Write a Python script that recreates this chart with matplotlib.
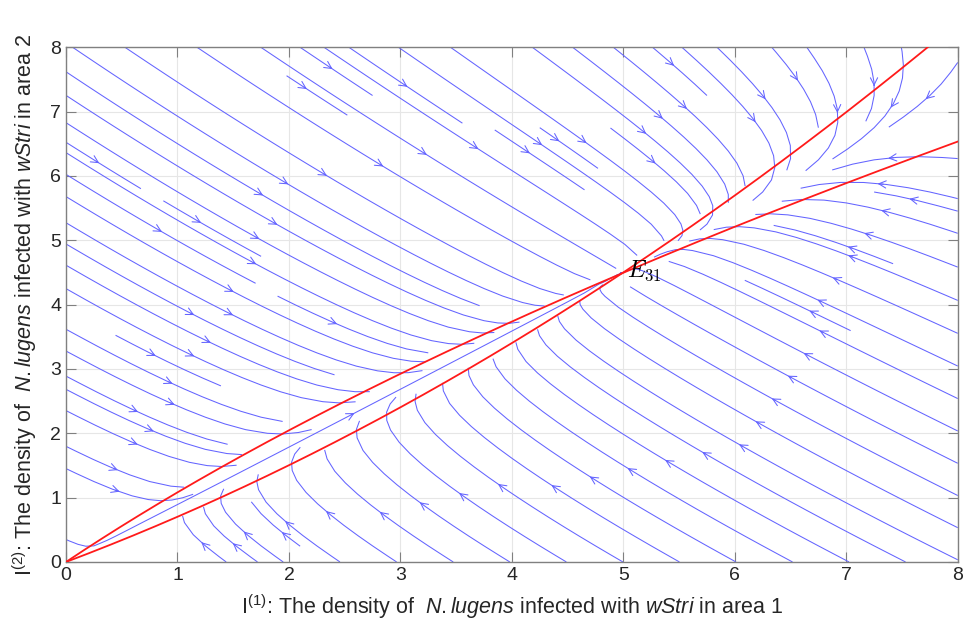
"""Phase portrait of the two-patch wStri infection model with nullclines."""

import matplotlib
matplotlib.use("Agg")
import matplotlib.pyplot as plt
import numpy as np

# nullcline coefficients
# I1-nullcline:  I2 = C1 * I1 + Q1 * I1**2
# I2-nullcline:  I1 = C2 * I2 + Q2 * I2**2
C1, Q1 = 0.653, 0.0494
C2, Q2 = 0.865, 0.055
RATE_RATIO = 0.9          # relative speed of the I2 equation
E31 = (5.0, 4.53)

x_ticks = [0, 1, 2, 3, 4, 5, 6, 7, 8]
y_ticks = [0, 1, 2, 3, 4, 5, 6, 7, 8]
LIMITS = (0, 8)

plt.rcParams["font.family"] = ["Liberation Sans", "DejaVu Sans"]
plt.rcParams["mathtext.fontset"] = "custom"
plt.rcParams["mathtext.rm"] = "Liberation Sans"
plt.rcParams["mathtext.it"] = "Liberation Sans:italic"


def h(x):
    return C1 * x + Q1 * x ** 2


def k(y):
    return C2 * y + Q2 * y ** 2


# ------------------------------------------------------------------ field
g = np.linspace(LIMITS[0], LIMITS[1], 240)
X, Y = np.meshgrid(g, g)
U = Y - h(X)
V = RATE_RATIO * (X - k(Y))

# seeds on a coarse regular grid, like streamslice does
s = np.linspace(0.25, 7.75, 16)
SX, SY = np.meshgrid(s, s)
seeds = np.column_stack([SX.ravel(), SY.ravel()])

fig = plt.figure(figsize=(9.64, 6.30), dpi=100)
ax = fig.add_axes([0.0685, 0.108, 0.925, 0.817])

ax.streamplot(X, Y, U, V, density=1.3, color="#6464ff", linewidth=0.75,
              arrowstyle="->", arrowsize=1.3, start_points=seeds,
              integration_direction="both")

# nullclines
xs = np.linspace(0, 8, 400)
ys = h(xs)
ax.plot(xs[ys <= 8.2], ys[ys <= 8.2], color="#ff1a1a", lw=1.3, zorder=4)
yv = np.linspace(0, 8, 400)
xv = k(yv)
ax.plot(xv[xv <= 8.2], yv[xv <= 8.2], color="#ff1a1a", lw=1.3, zorder=4)

ax.text(E31[0] + 0.03, E31[1], r"$E_{31}$", fontsize=17, ha="left",
        va="center", math_fontfamily="cm", zorder=5)

ax.set_xlim(*LIMITS)
ax.set_ylim(*LIMITS)
ax.set_xticks(x_ticks)
ax.set_yticks(y_ticks)
ax.grid(True, color="#e6e6e6", lw=0.8)
ax.set_axisbelow(True)
ax.tick_params(direction="in", length=7, width=0.8, color="#808080",
               labelsize=14, labelcolor="#262626", top=True, right=True)
for sp in ax.spines.values():
    sp.set_color("#808080")
    sp.set_linewidth(1.0)

ax.set_xlabel(r"I$^{(1)}$: The density of  $\mathit{N.lugens}$ infected with "
              r"$\mathit{wStri}$ in area 1", fontsize=15.5, color="#262626",
              labelpad=6)
ax.set_ylabel(r"I$^{(2)}$: The density of  $\mathit{N.lugens}$ infected with "
              r"$\mathit{wStri}$ in area 2", fontsize=15.5, color="#262626",
              labelpad=8)

fig.savefig("out.png", dpi=100)
